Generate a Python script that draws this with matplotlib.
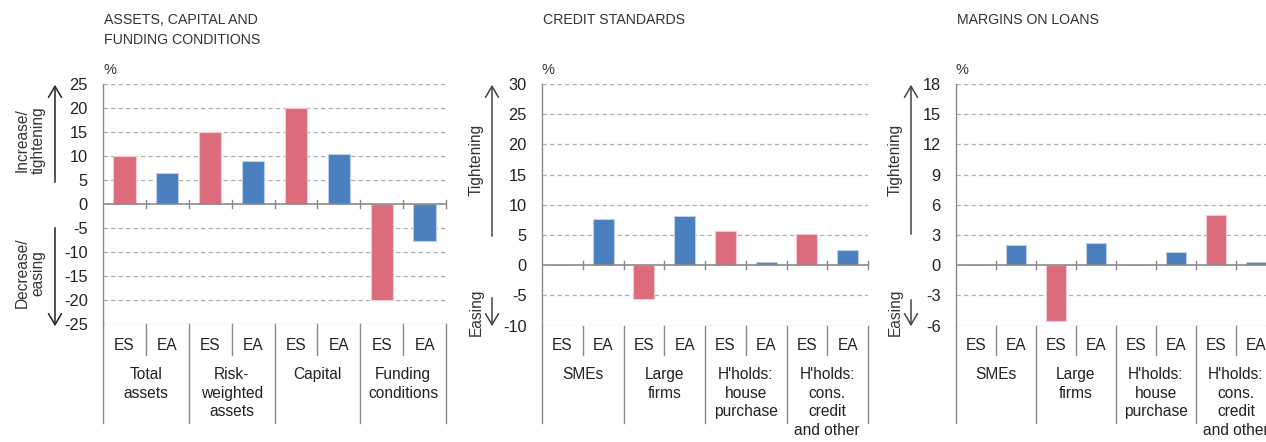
import matplotlib
matplotlib.use("Agg")
import matplotlib.pyplot as plt

plt.rcParams['font.family'] = ['Liberation Sans', 'DejaVu Sans']

# ---------------- data ----------------
bar_labels = ["ES", "EA"]

p1_title = "ASSETS, CAPITAL AND\nFUNDING CONDITIONS"
p1_groups = ["Total\nassets", "Risk-\nweighted\nassets", "Capital", "Funding\nconditions"]
p1_es = [10, 15, 20, -20]
p1_ea = [6.5, 9, 10.5, -7.8]
p1_ylim = (-25, 25)
p1_ticks = [25, 20, 15, 10, 5, 0, -5, -10, -15, -20, -25]
p1_up = "Increase/\ntightening"
p1_down = "Decrease/\neasing"

p2_title = "CREDIT STANDARDS"
p2_groups = ["SMEs", "Large\nfirms", "H'holds:\nhouse\npurchase", "H'holds:\ncons.\ncredit\nand other"]
p2_es = [0, -5.5, 5.6, 5.1]
p2_ea = [7.6, 8.2, 0.6, 2.6]
p2_ylim = (-10, 30)
p2_ticks = [30, 25, 20, 15, 10, 5, 0, -5, -10]
p2_up = "Tightening"
p2_down = "Easing"

p3_title = "MARGINS ON LOANS"
p3_groups = ["SMEs", "Large\nfirms", "H'holds:\nhouse\npurchase", "H'holds:\ncons.\ncredit\nand other"]
p3_es = [0, -5.5, 0, 5.0]
p3_ea = [2.05, 2.25, 1.35, 0.35]
p3_ylim = (-6, 18)
p3_ticks = [18, 15, 12, 9, 6, 3, 0, -3, -6]
p3_up = "Tightening"
p3_down = "Easing"

RED = "#DC6C7C"
BLUE = "#4A7FC0"
TXT = "#222222"
AXC = "#8a8a8a"
FS = 11.2

W, H = 1266, 442
fig = plt.figure(figsize=(W / 100, H / 100), dpi=100)


def fx(px):
    return px / W


def fy(py):
    return 1 - py / H


def panel(left, right, top, bottom, title, title_y, groups, es, ea, ylim, ticks,
          up, down, arrow_x, text_x, up_rng, down_rng, up_cy, down_cy, arrow_col):
    ax = fig.add_axes([fx(left), fy(bottom), fx(right - left), (bottom - top) / H])
    n = len(groups)
    xs_es = [2 * i + 0.5 for i in range(n)]
    xs_ea = [2 * i + 1.5 for i in range(n)]
    ax.bar(xs_es, es, width=0.52, color=RED, edgecolor="#f3c9cf", linewidth=0.8, zorder=3)
    ax.bar(xs_ea, ea, width=0.52, color=BLUE, edgecolor="#bcd0ea", linewidth=0.8, zorder=3)
    ax.set_xlim(0, 2 * n)
    ax.set_ylim(*ylim)
    ax.set_yticks(ticks)
    ax.set_yticklabels([str(t) for t in ticks])
    ax.tick_params(axis='y', length=0, pad=11, labelsize=FS + 0.6, labelcolor=TXT)
    ax.set_xticks([])
    for s in ["top", "right", "bottom"]:
        ax.spines[s].set_visible(False)
    ax.spines["left"].set_color(AXC)
    ax.spines["left"].set_linewidth(1.0)
    for t in ticks:
        if t != 0:
            ax.axhline(t, color="#b0b0b0", lw=0.9, ls=(0, (3.5, 2.5)), zorder=1)
    ax.axhline(0, color=AXC, lw=1.2, zorder=4)
    # ticks crossing the zero line
    yr = ylim[1] - ylim[0]
    ph = bottom - top
    dy = 4 * yr / ph
    for k in range(1, 2 * n + 1):
        ax.plot([k, k], [-dy, dy], color=AXC, lw=1.0, zorder=4, clip_on=False)
    # category area below the plot
    bt = ax.get_xaxis_transform()
    short_y = -(355 - bottom) / ph
    long_y = -(423 - bottom) / ph
    ax.plot([0, 0], [0, long_y], transform=bt, color=AXC, lw=1.0, clip_on=False)
    for k in range(1, 2 * n + 1):
        yend = long_y if k % 2 == 0 else short_y
        ax.plot([k, k], [0, yend], transform=bt, color=AXC, lw=1.0, clip_on=False)
    lab_y = -(345 - bottom) / ph
    for i in range(n):
        ax.text(xs_es[i], lab_y, bar_labels[0], transform=bt, ha="center", va="center",
                fontsize=FS, color=TXT)
        ax.text(xs_ea[i], lab_y, bar_labels[1], transform=bt, ha="center", va="center",
                fontsize=FS, color=TXT)
        ax.text(2 * i + 1, -(367 - bottom) / ph, groups[i], transform=bt, ha="center", va="top",
                fontsize=FS, color=TXT, linespacing=1.3)
    # titles and %
    fig.text(fx(left + 1), fy(title_y), title, ha="left", va="top", fontsize=10.2,
             color="#333333", linespacing=1.5)
    fig.text(fx(left), fy(70), "%", ha="left", va="center", fontsize=10.5, color="#333333")
    # arrows
    for rng in (up_rng, down_rng):
        fig.add_artist(matplotlib.patches.FancyArrowPatch(
            (fx(arrow_x), fy(rng[0])), (fx(arrow_x), fy(rng[1])),
            transform=fig.transFigure, arrowstyle="->,head_length=8,head_width=4.7",
            color=arrow_col, lw=1.1, mutation_scale=1))
    fig.text(fx(text_x), fy(up_cy), up, rotation=90, ha="center", va="center",
             fontsize=FS, color="#333333", linespacing=1.1, multialignment="center")
    fig.text(fx(text_x), fy(down_cy), down, rotation=90, ha="center", va="center",
             fontsize=FS, color="#333333", linespacing=1.1, multialignment="center")
    return ax


panel(103, 446, 84, 324, p1_title, 13, p1_groups, p1_es, p1_ea, p1_ylim, p1_ticks,
      p1_up, p1_down, 55, 30, (185, 82), (225, 329), 140, 273, "#222222")
panel(542, 868, 84, 325.7, p2_title, 13, p2_groups, p2_es, p2_ea, p2_ylim, p2_ticks,
      p2_up, p2_down, 492, 476, (239, 82), (295, 329), 160, 312, "#444444")
panel(956, 1276, 84, 325.7, p3_title, 13, p3_groups, p3_es, p3_ea, p3_ylim, p3_ticks,
      p3_up, p3_down, 911, 895, (237, 82), (297, 329), 160, 312, "#444444")

fig.savefig("out.png", dpi=100)
